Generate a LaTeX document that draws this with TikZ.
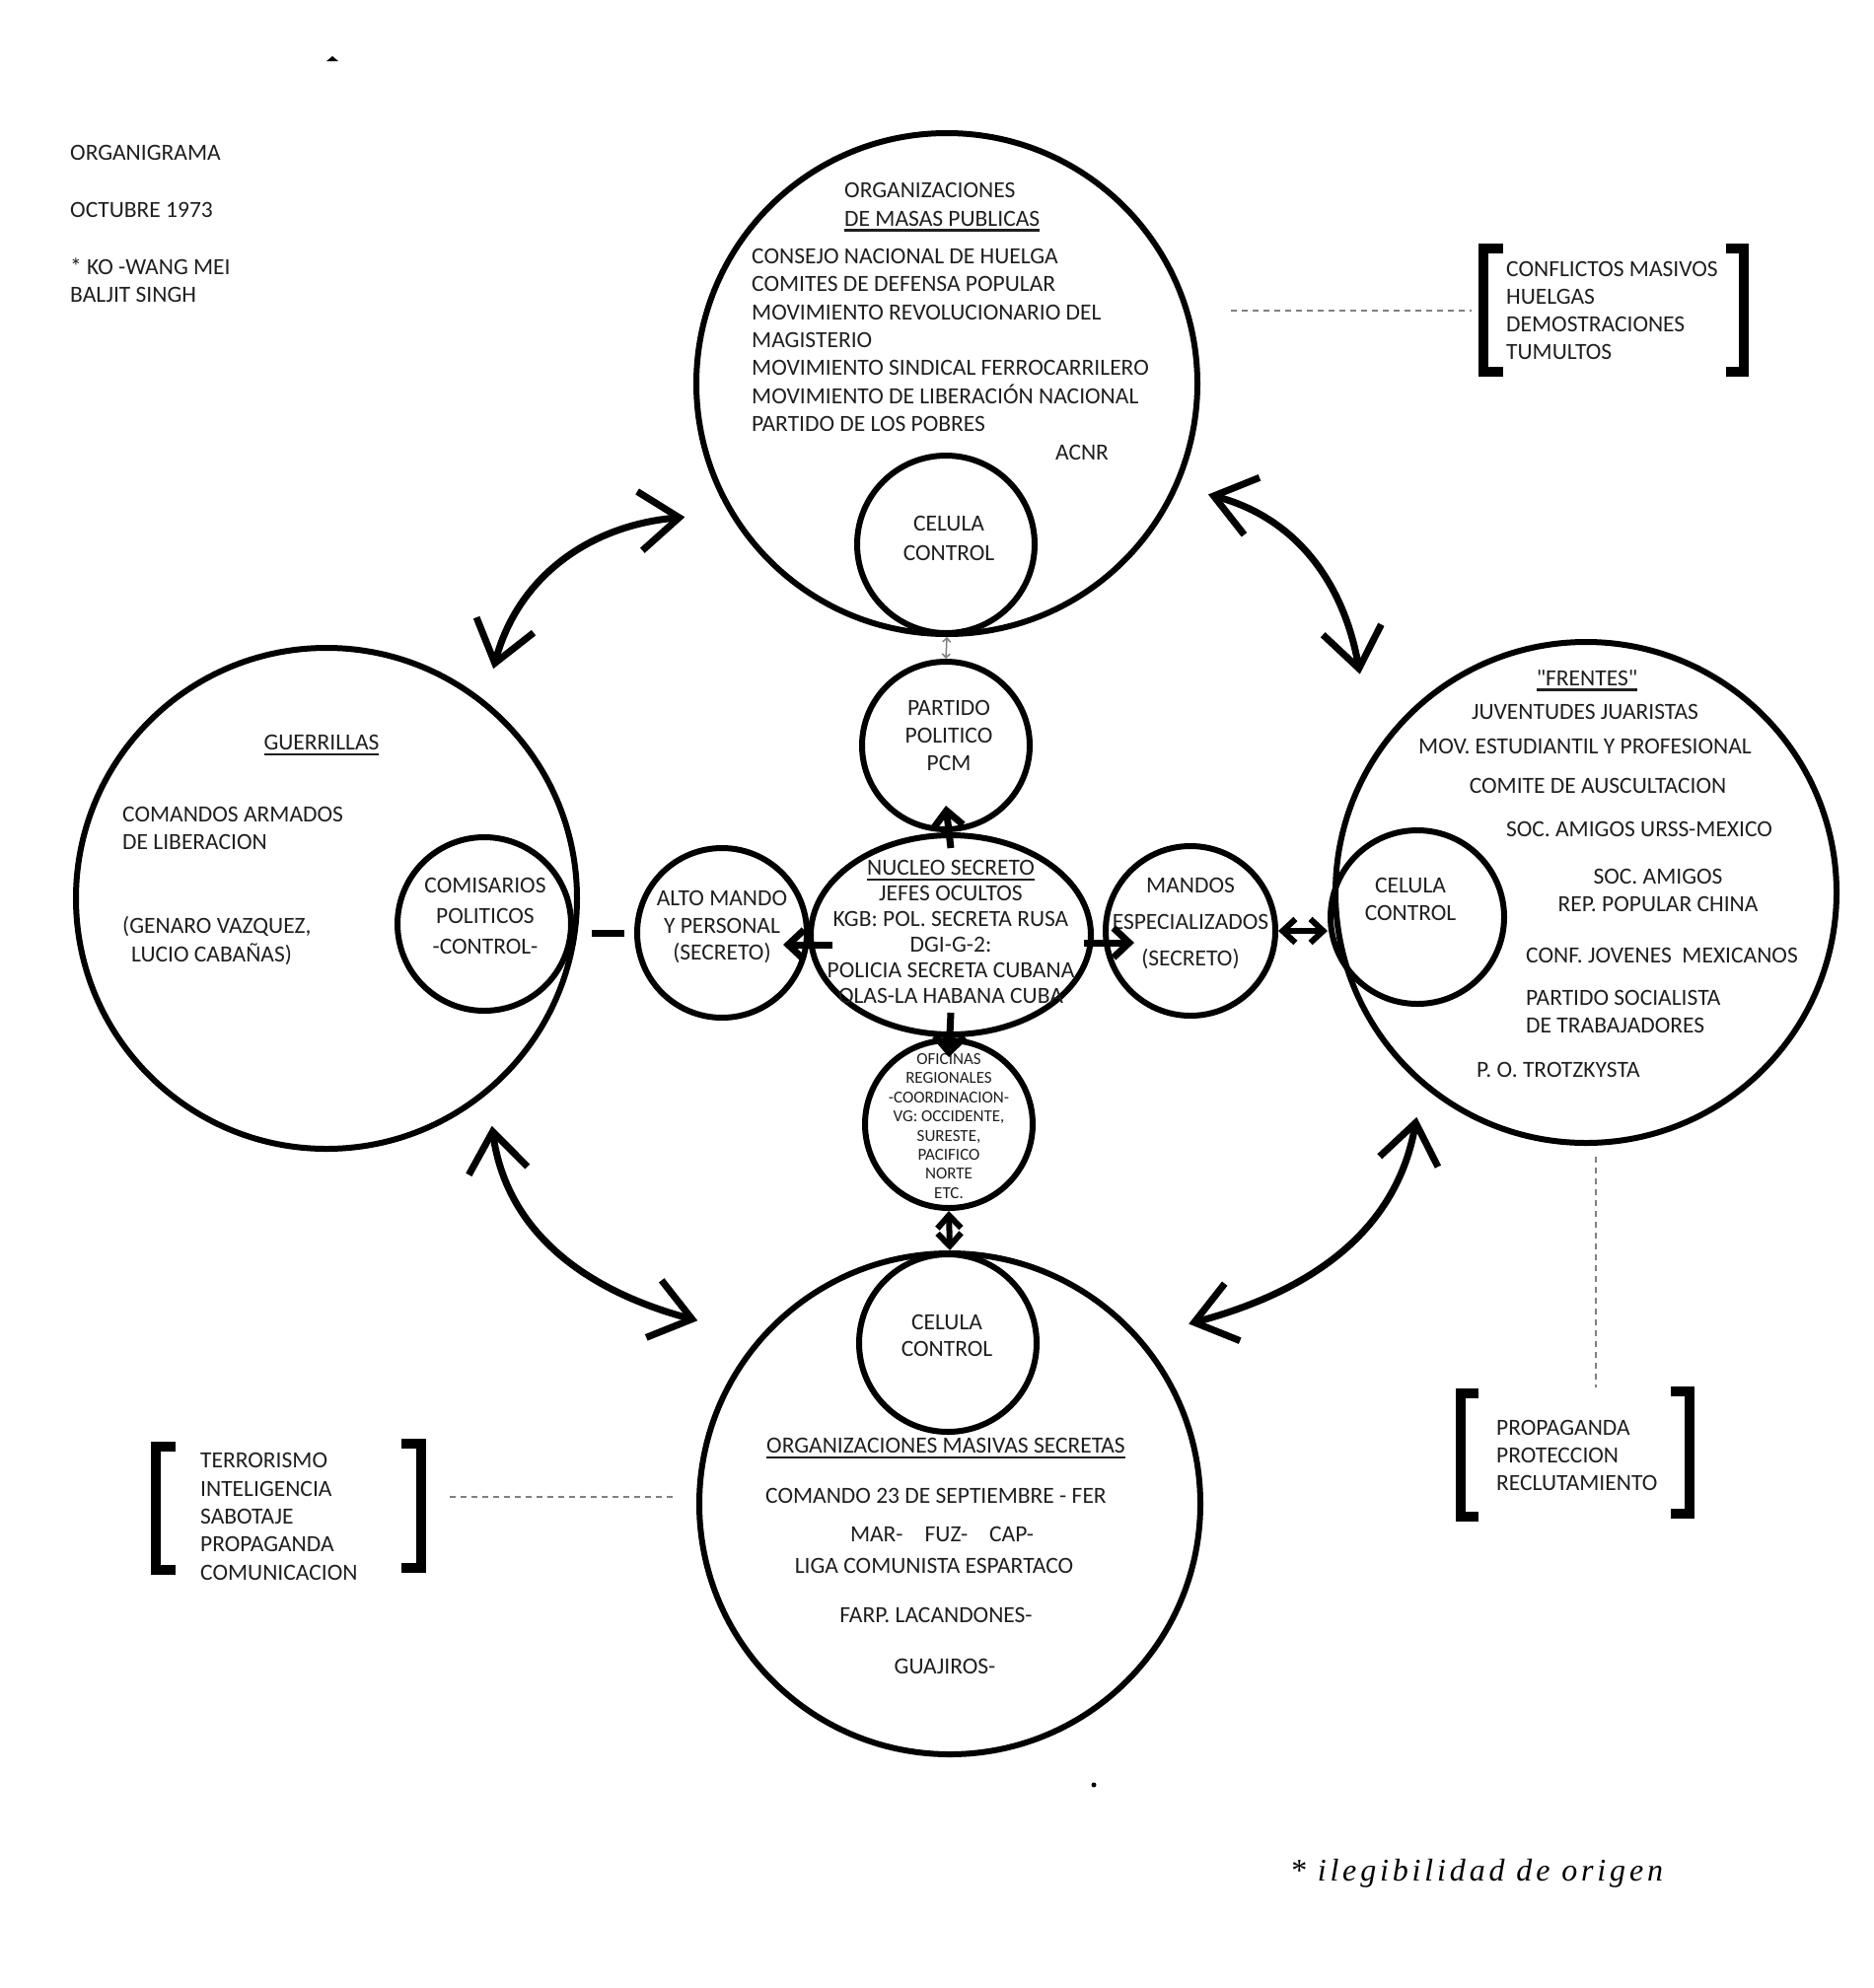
\documentclass[tikz,border=0pt]{standalone}
\usepackage{fontspec}
\setmainfont{Carlito}
\newfontfamily\notefont{Liberation Serif}[LetterSpace=12]
\usetikzlibrary{arrows.meta, calc, shapes.geometric}
\newcommand\fsz[2]{\fontsize{#1}{#2}\selectfont}
\newsavebox\ulbox
\newcommand\undl[1]{\sbox\ulbox{#1}\rlap{\vrule width\wd\ulbox height -3pt depth 5.5pt}\usebox\ulbox}

\begin{document}
\begin{tikzpicture}[x=1pt, y=-1pt,
  ring/.style={draw, line width=6pt, circle, inner sep=0pt},
  txt/.style={inner sep=0pt, text=black!88, font=\fsz{23.5}{28.3}},
  swing/.style={line width=7pt, line cap=round, {Straight Barb[length=40pt,width=60pt]}-{Straight Barb[length=40pt,width=60pt]}},
  arrw/.style={line width=7pt, -{Straight Barb[length=16pt,width=30pt]}},
  dblarrw/.style={line width=6pt, {Straight Barb[length=13pt,width=24pt]}-{Straight Barb[length=13pt,width=24pt]}},
  dsh/.style={line width=1.5pt, black!50, dash pattern=on 6pt off 5pt},
  brk/.style={line width=10pt}]
\useasboundingbox (0,0) rectangle (1900,2016);

% big circles
\node[ring, minimum size=508pt] (top) at (960,389) {};
\node[ring, minimum size=508pt] (guer) at (331,911) {};
\node[ring, minimum size=508pt] (frent) at (1608,905) {};
\node[ring, minimum size=508pt] (bot) at (963,1525) {};
% small circles
\node[ring, minimum size=180pt] (celtop) at (959,552) {};
\node[ring, minimum size=170pt] (partido) at (959,756) {};
\node[draw, line width=6pt, ellipse, inner sep=0pt, minimum width=284pt, minimum height=202pt] (nucleo) at (964,948) {};
\node[ring, minimum size=172pt] (alto) at (732,946) {};
\node[ring, minimum size=172pt] (mandos) at (1207,944) {};
\node[ring, minimum size=170pt] (ofic) at (962,1140) {};
\node[ring, minimum size=180pt] (celbot) at (961,1362) {};
\node[ring, minimum size=176pt] (comis) at (491,937) {};
\node[ring, minimum size=176pt] (celfr) at (1437,930) {};

% heading
\node[txt, anchor=west] (organ) at (71,155) {ORGANIGRAMA};
\node[txt, anchor=west] (fecha) at (71,213) {OCTUBRE 1973};
\node[txt, anchor=west, align=left] (firma) at (71,284) {* KO -WANG MEI\\BALJIT SINGH};

% top circle
\node[txt, anchor=west, align=left] (orgtit) at (856,210) {ORGANIZACIONES\\\undl{DE MASAS PUBLICAS}};
\node[txt, anchor=west, align=left] (orglist) at (762,345) {CONSEJO NACIONAL DE HUELGA\\COMITES DE DEFENSA POPULAR\\MOVIMIENTO REVOLUCIONARIO DEL\\MAGISTERIO\\MOVIMIENTO SINDICAL FERROCARRILERO\\MOVIMIENTO DE LIBERACIÓN NACIONAL\\PARTIDO DE LOS POBRES};
\node[txt] (acnr) at (1097,459) {ACNR};
\node[txt, align=center, font=\fsz{23.5}{30}] (celtop-t) at (962,546) {CELULA\\CONTROL};

% centre
\node[txt, align=center, font=\fsz{23.5}{28}] (partido-t) at (962,746) {PARTIDO\\POLITICO\\PCM};
\node[txt, align=center, font=\fsz{23.5}{26}] (nucleo-t) at (964,945) {\undl{NUCLEO SECRETO}\\JEFES OCULTOS\\KGB: POL. SECRETA RUSA\\DGI-G-2:\\POLICIA SECRETA CUBANA\\OLAS-LA HABANA CUBA};
\node[txt, align=center, font=\fsz{23.5}{27.5}] (alto-t) at (732,940) {ALTO MANDO\\Y PERSONAL\\(SECRETO)};
\node[txt, align=center, font=\fsz{23.5}{37}] (mandos-t) at (1207,936) {MANDOS\\ESPECIALIZADOS\\(SECRETO)};
\node[txt, align=center, font=\fsz{17}{19.4}] (ofic-t) at (962,1142) {OFICINAS\\REGIONALES\\-COORDINACION-\\VG: OCCIDENTE,\\SURESTE,\\PACIFICO\\NORTE\\ETC.};

% guerrillas
\node[txt] (guer-t) at (326,756) {\undl{GUERRILLAS}};
\node[txt, anchor=west, align=left] (comandos) at (124,840) {COMANDOS ARMADOS\\DE LIBERACION};
\node[txt, anchor=west, align=left] (genaro) at (124,954) {(GENARO VAZQUEZ,\\\hspace*{9pt}LUCIO CABAÑAS)};
\node[txt, align=center, font=\fsz{23.5}{31}] (comis-t) at (492,929) {COMISARIOS\\POLITICOS\\-CONTROL-};

% frentes
\node[txt] (frent-t) at (1609,690) {\undl{\textquotedbl FRENTES\textquotedbl}};
\node[txt] (juv) at (1607,722) {JUVENTUDES JUARISTAS};
\node[txt] (mov) at (1607,757) {MOV. ESTUDIANTIL Y PROFESIONAL};
\node[txt] (ausc) at (1620,797) {COMITE DE AUSCULTACION};
\node[txt] (urss) at (1662,841) {SOC. AMIGOS URSS-MEXICO};
\node[txt, align=center] (china) at (1681,903) {SOC. AMIGOS\\REP. POPULAR CHINA};
\node[txt] (conf) at (1685,969) {CONF. JOVENES\ \ MEXICANOS};
\node[txt, anchor=west, align=left] (pst) at (1547,1026) {PARTIDO SOCIALISTA\\DE TRABAJADORES};
\node[txt, anchor=west] (trotz) at (1497,1085) {P. O. TROTZKYSTA};
\node[txt, align=center, font=\fsz{23.5}{28}] (celfr-t) at (1430,912) {CELULA\\CONTROL};

% bottom circle
\node[txt, align=center, font=\fsz{23.5}{27}] (celbot-t) at (960,1354) {CELULA\\CONTROL};
\node[txt] (secr) at (959,1469) {\undl{ORGANIZACIONES MASIVAS SECRETAS}};
\node[txt] (sept) at (949,1517) {COMANDO 23 DE SEPTIEMBRE - FER};
\node[txt] (mar) at (955,1556) {MAR-\hspace{22pt}FUZ-\hspace{22pt}CAP-};
\node[txt] (liga) at (947,1588) {LIGA COMUNISTA ESPARTACO};
\node[txt] (farp) at (949,1638) {FARP. LACANDONES-};
\node[txt] (guaj) at (958,1690) {GUAJIROS-};

% side lists
\node[txt, anchor=west, align=left] (masivos) at (1527,315) {CONFLICTOS MASIVOS\\HUELGAS\\DEMOSTRACIONES\\TUMULTOS};
\node[txt, anchor=west, align=left] (terror) at (203,1538) {TERRORISMO\\INTELIGENCIA\\SABOTAJE\\PROPAGANDA\\COMUNICACION};
\node[txt, anchor=west, align=left] (propag) at (1517,1476) {PROPAGANDA\\PROTECCION\\RECLUTAMIENTO};
\draw[brk] (1524,252) -| (1504,377) -- (1524,377);
\draw[brk] (1750,252) -| (1768,377) -- (1750,377);
\draw[brk] (178,1467) -| (158,1592) -- (178,1592);
\draw[brk] (407,1464) -| (427,1590) -- (407,1590);
\draw[brk] (1499,1413) -| (1481,1538) -- (1499,1538);
\draw[brk] (1694,1411) -| (1713,1535) -- (1694,1535);

% dashed links
\draw[dsh] ([xshift=31pt]top.east |- masivos.west) -- ([xshift=-35pt]masivos.west);
\draw[dsh] ([shift={(93,-20)}]terror.east) -- ([shift={(-24,-20)}]terror.east -| bot.west);
\draw[dsh] ([shift={(10,11)}]frent.south) -- ([xshift=10pt,yshift=33pt]frent.south |- propag.north);

% arrows from the nucleus
\draw[arrw] ([yshift=-16pt]nucleo.north) -- ([yshift=27pt]partido.south);
\draw[arrw] ([xshift=25pt,yshift=-10pt]nucleo.west) -- ([xshift=-27pt,yshift=-10pt]nucleo.west -| alto.east);
\draw[arrw] ([xshift=-10pt,yshift=-8pt]nucleo.east) -- ([xshift=32pt,yshift=-8pt]nucleo.east -| mandos.west);
\draw[arrw] ([yshift=25pt]nucleo.south) -- ([yshift=-20pt]ofic.north);
\draw[dblarrw] (ofic.south) -- (bot.north);
\draw[dblarrw] (mandos.east) -- (mandos.east -| celfr.west);
\draw[line width=7pt, shorten <=12pt, shorten >=10pt] (guer.east |- alto.west) -- (alto.west);
\draw[black!50, line width=1.5pt, {Straight Barb[length=4pt,width=8pt]}-{Straight Barb[length=4pt,width=8pt]}] (top.south) -- (partido.north);

% curved links between the big circles
\draw[swing] ($(guer.center)!1.12!(guer.54)$) to[out=75, in=185] ($(top.center)!1.16!(top.207)$);
\draw[swing] ($(top.center)!1.12!(top.337)$) to[out=-15, in=100] ($(frent.center)!1.24!(frent.136)$);
\draw[swing] ($(guer.center)!1.11!(guer.306)$) to[out=-82, in=165] ($(bot.center)!1.23!(bot.144)$);
\draw[swing] ($(frent.center)!1.11!(frent.233)$) to[out=-100, in=15] ($(bot.center)!1.18!(bot.37)$);

% marks
\fill (331,62) -- (343,62) -- (337,57) -- cycle;
\fill (1109,1810) circle (2.5pt);
\node[inner sep=0pt, font=\notefont\itshape\fsz{32}{38}] (nota) at (1497,1900) {* ilegibilidad de origen};
\end{tikzpicture}
\end{document}
